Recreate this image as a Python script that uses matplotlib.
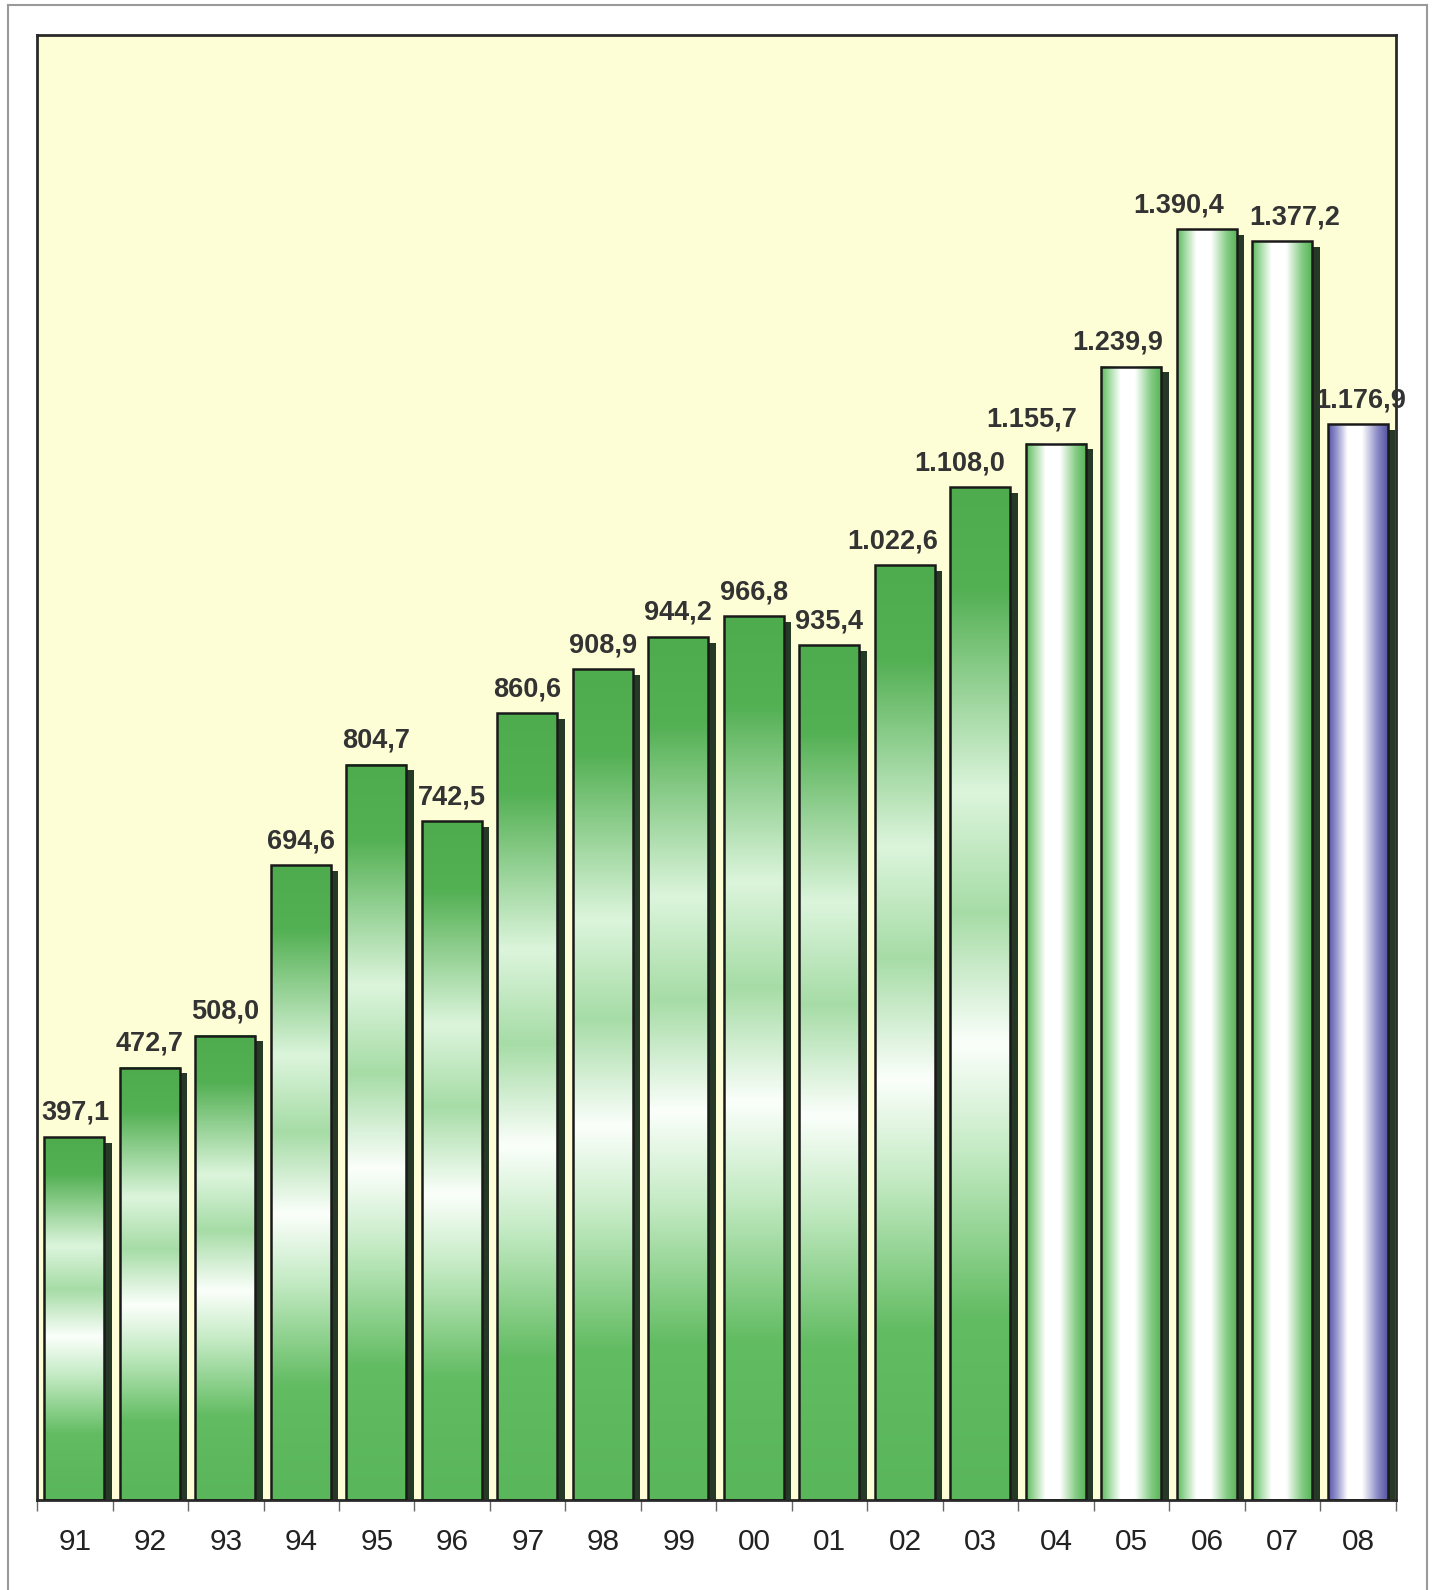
import numpy as np
import matplotlib.pyplot as plt
from matplotlib.colors import LinearSegmentedColormap
from matplotlib.patches import Rectangle
from matplotlib.lines import Line2D

plt.rcParams['font.family'] = ['Liberation Sans', 'DejaVu Sans']

# datos
years = ['91', '92', '93', '94', '95', '96', '97', '98', '99',
         '00', '01', '02', '03', '04', '05', '06', '07', '08']
values = [397.1, 472.7, 508.0, 694.6, 804.7, 742.5, 860.6, 908.9, 944.2,
          966.8, 935.4, 1022.6, 1108.0, 1155.7, 1239.9, 1390.4, 1377.2, 1176.9]
value_labels = ['397,1', '472,7', '508,0', '694,6', '804,7', '742,5', '860,6',
                '908,9', '944,2', '966,8', '935,4', '1.022,6', '1.108,0',
                '1.155,7', '1.239,9', '1.390,4', '1.377,2', '1.176,9']
bar_style = ['v'] * 13 + ['h'] * 4 + ['b']
# desplazamiento horizontal de las etiquetas (puntos)
label_dx = [1, 0, 0, 0, 0, 0, 0, 0, 0, 0, 0, -9, -15, -17, -10, -20, 9, 2]

# degradados
cm_v = LinearSegmentedColormap.from_list('gv', [
    (0.0, '#4eab4e'), (0.1, '#53b053'), (0.3, '#dcf5dc'), (0.42, '#a6dca6'),
    (0.55, '#fbfffb'), (0.66, '#c2eac2'), (0.82, '#62bc62'), (1.0, '#5ab65a')])
cm_h = LinearSegmentedColormap.from_list('gh', [
    (0.0, '#5cb85c'), (0.14, '#a4dca4'), (0.32, '#ffffff'), (0.56, '#ffffff'),
    (0.82, '#84cc84'), (1.0, '#55b255')])
cm_b = LinearSegmentedColormap.from_list('bh', [
    (0.0, '#5454a4'), (0.15, '#9a9ad0'), (0.32, '#ffffff'), (0.56, '#ffffff'),
    (0.82, '#8888c4'), (1.0, '#50509e')])

W, H = 1435, 1590
fig = plt.figure(figsize=(W / 100, H / 100), dpi=100)
ax = fig.add_axes([37 / W, 90 / H, (1396 - 37) / W, (1500 - 35) / H])
ax.set_facecolor('#fefed6')

bw = 0.8
ymax = 1603
g = np.linspace(0, 1, 256)
for i, (v, st) in enumerate(zip(values, bar_style)):
    x0 = i - 0.5 + 0.093
    # sombra
    ax.add_patch(Rectangle((x0 + 0.095, 0), bw, v - 6, facecolor='#263826',
                           edgecolor='none', zorder=1))
    if st == 'v':
        img = cm_v(g)[:, None, :]
    elif st == 'h':
        img = cm_h(g)[None, :, :]
    else:
        img = cm_b(g)[None, :, :]
    ax.imshow(img, extent=(x0, x0 + bw, 0, v), origin='upper',
              aspect='auto', interpolation='bilinear', zorder=2)
    ax.add_patch(Rectangle((x0, 0), bw, v, facecolor='none',
                           edgecolor='#1a1a1a', linewidth=1.8, zorder=3))
    ax.annotate(value_labels[i], (x0 + bw / 2, v), xytext=(label_dx[i], 8),
                textcoords='offset points', ha='center', va='bottom',
                fontsize=19.5, fontweight='bold', color='#333333', zorder=4)

ax.set_xlim(-0.5, len(years) - 0.5)
ax.set_ylim(0, ymax)
ax.set_xticks(range(len(years)))
ax.set_xticklabels(years, fontsize=21.5, color='#222222')
ax.set_xticks(np.arange(-0.5, len(years)), minor=True)
ax.tick_params(axis='x', which='major', length=0, pad=20)
ax.tick_params(axis='x', which='minor', length=8, width=1, color='#666666')
ax.set_yticks([])
for s in ax.spines.values():
    s.set_color('#2a2a2a')
    s.set_linewidth(2)

# marco exterior
for xs, ys in [([8 / W, 8 / W], [0, 1 - 5 / H]),
               ([8 / W, 1427 / W], [1 - 5 / H, 1 - 5 / H]),
               ([1427 / W, 1427 / W], [0, 1 - 5 / H])]:
    fig.add_artist(Line2D(xs, ys, color='#9a9a9a', linewidth=1.5))

fig.savefig('out.png', dpi=100)
